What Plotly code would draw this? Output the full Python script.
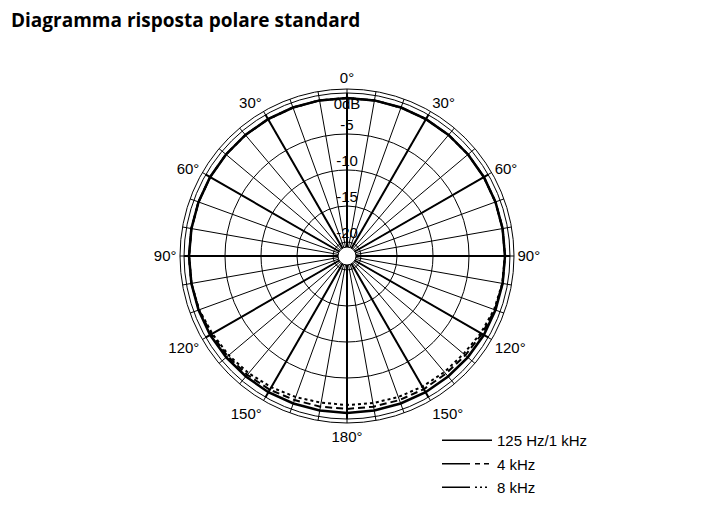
import plotly.graph_objects as go

# ---- data (dB, angle clockwise from 0° at top) ----
angles = [0, 10, 20, 30, 40, 50, 60, 70, 80, 90, 100, 110, 120, 130, 140, 150, 160, 170, 180,
          190, 200, 210, 220, 230, 240, 250, 260, 270, 280, 290, 300, 310, 320, 330, 340, 350, 360]
resp_125_1k = [0, 0, 0, 0, 0, 0, 0, 0, 0, 0, 0, 0, 0, -0.05, -0.1, -0.1, -0.15, -0.15, -0.15,
               -0.15, -0.15, -0.1, -0.1, -0.05, 0, 0, 0, 0, 0, 0, 0, 0, 0, 0, 0, 0, 0]
resp_4k = [0, 0, 0, 0, 0, 0, 0, 0, 0, 0, 0, -0.1, -0.3, -0.5, -0.6, -0.6, -0.65, -0.7, -0.7,
           -0.7, -0.65, -0.5, -0.4, -0.3, -0.2, -0.05, 0, 0, 0, 0, 0, 0, 0, 0, 0, 0, 0]
resp_8k = [0, 0, 0, 0, 0, 0, 0, 0, 0, 0, -0.05, -0.2, -0.5, -0.8, -0.9, -1.0, -1.1, -1.2, -1.25,
           -1.25, -1.1, -0.9, -0.7, -0.5, -0.35, -0.1, 0, 0, 0, 0, 0, 0, 0, 0, 0, 0, 0]

series_names = ["125 Hz/1 kHz", "4 kHz", "8 kHz"]

radial_ticks = [0, -5, -10, -15, -20]
radial_labels = ["0dB", "-5", "-10", "-15", "-20"]

angle_ticks = list(range(0, 360, 10))
angle_labels_major = {0: "0°", 30: "30°", 60: "60°", 90: "90°", 120: "120°", 150: "150°",
                      180: "180°", 210: "150°", 240: "120°", 270: "90°", 300: "60°", 330: "30°"}
spoke_angles = [0, 30, 60, 90, 120, 150, 180, 210, 240, 270, 300, 330]

R_MIN, R_MAX = -20.7, 1.25
R_RING = 0.69

FONT = "Liberation Sans, Arial, Helvetica, sans-serif"
W, H = 715, 517

fig = go.Figure()

# thick spokes every 30°
sr, st = [], []
for a in spoke_angles:
    sr += [R_MIN, R_RING, None]
    st += [a, a, None]
fig.add_trace(go.Scatterpolar(r=sr, theta=st, mode="lines",
                              line=dict(color="black", width=2),
                              showlegend=False, hoverinfo="skip"))

# response curves
fig.add_trace(go.Scatterpolar(r=resp_8k, theta=angles, mode="lines",
                              line=dict(color="black", width=2, dash="3px,3px"),
                              showlegend=False))
fig.add_trace(go.Scatterpolar(r=resp_4k, theta=angles, mode="lines",
                              line=dict(color="black", width=2, dash="7px,4px"),
                              showlegend=False))
fig.add_trace(go.Scatterpolar(r=resp_125_1k, theta=angles, mode="lines",
                              line=dict(color="black", width=2.5),
                              showlegend=False))

# legend-only entries
legend_dash = ["solid", "28px,5px,5px,4px,5px,3px", "28px,5px,2px,3px,2px,3px,2px,5px"]
for i, (nm, d) in enumerate(zip(series_names, legend_dash)):
    fig.add_trace(go.Scatterpolar(r=[None], theta=[None], mode="lines", name=nm,
                                  legendgroup="g%d" % i,
                                  line=dict(color="black", width=1.5, dash=d)))

# radial labels
fig.add_trace(go.Scatterpolar(r=radial_ticks, theta=[0] * len(radial_ticks), mode="text",
                              text=radial_labels,
                              textposition=["bottom center", "top center", "top center",
                                            "top center", "top center"],
                              textfont=dict(family=FONT, size=15, color="black"),
                              showlegend=False, hoverinfo="skip"))

fig.update_layout(
    width=W, height=H,
    margin=dict(l=0, r=0, t=0, b=0, autoexpand=False),
    paper_bgcolor="white",
    font=dict(family=FONT, size=15, color="black"),
    title=dict(text="<b>Diagramma risposta polare standard</b>",
               x=3 / W, xanchor="left", y=1 - 12 / H, yanchor="middle",
               font=dict(family="Open Sans, sans-serif", size=19, color="black")),
    polar=dict(
        domain=dict(x=[172 / W, 506 / W], y=[1 - 415 / H, 1 - 81 / H]),
        bgcolor="white",
        hole=9 / 167,
        radialaxis=dict(range=[R_MIN, R_MAX], tickvals=[-20, -15, -10, -5, R_RING],
                        showticklabels=False, ticks="", showline=False,
                        gridcolor="black", gridwidth=1),
        angularaxis=dict(direction="clockwise", rotation=90,
                         tickmode="array", tickvals=angle_ticks,
                         ticktext=[angle_labels_major.get(a, "") for a in angle_ticks],
                         ticks="", showline=True, linecolor="black", linewidth=1,
                         gridcolor="black", gridwidth=1,
                         tickfont=dict(family=FONT, size=15, color="black")),
    ),
    legend=dict(x=429 / W, y=1 - 416 / H, xanchor="left", yanchor="top",
                bgcolor="rgba(0,0,0,0)", itemwidth=50, tracegroupgap=1,
                font=dict(family=FONT, size=15, color="black")),
)

fig.write_html("out.html")
